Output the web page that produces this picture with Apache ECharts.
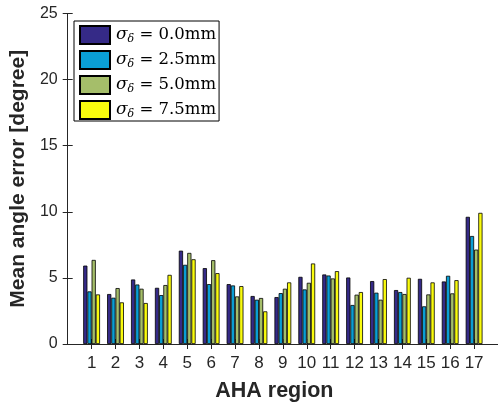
<!DOCTYPE html>
<html><head><meta charset="utf-8">
<script src="https://cdn.jsdelivr.net/npm/echarts@6/dist/echarts.min.js"></script>
<style>html,body{margin:0;padding:0;background:#fff}#c{width:498px;height:407px}</style>
</head><body><div id="c"></div>
<script>
const regions = [1,2,3,4,5,6,7,8,9,10,11,12,13,14,15,16,17];
const sigmaLabels = ['0.0mm','2.5mm','5.0mm','7.5mm'];
const s00 = [5.93,3.78,4.88,4.25,7.06,5.74,4.53,3.63,3.55,5.08,5.26,5.03,4.76,4.08,4.93,4.73,9.62];
const s25 = [3.98,3.50,4.50,3.70,5.99,4.53,4.43,3.35,3.85,4.13,5.18,2.95,3.88,3.93,2.85,5.16,8.17];
const s50 = [6.36,4.23,4.18,4.46,6.89,6.34,3.60,3.48,4.18,4.63,4.96,3.73,3.35,3.78,3.75,3.83,7.14];
const s75 = [3.75,3.15,3.10,5.23,6.41,5.36,4.38,2.47,4.66,6.09,5.51,3.93,4.91,5.01,4.66,4.83,9.92];
const yTicks = [0,5,10,15,20,25];
const colors = ['#352a87','#0a9ed4','#a5be6a','#f9fb0e'];
const seriesVals = [s00,s25,s50,s75];

const axColor = '#262626';
const chart = echarts.init(document.getElementById('c'), null, {renderer:'canvas'});
const tickCommon = {show:true, inside:true, length:5, lineStyle:{color:axColor,width:1}};
const option = {
  animation:false,
  backgroundColor:'#fff',
  grid:{left:64, right:0, top:13.5, bottom:61.5, containLabel:false},
  legend:{
    left:74, top:21, orient:'vertical',
    backgroundColor:'#fff', borderColor:'#000', borderWidth:1, borderRadius:0,
    padding:[4,3,1,5], itemWidth:30, itemHeight:18, itemGap:5,
    icon:'rect',
    data: sigmaLabels.map(s=>'sd='+s),
    formatter: name => '{s|σ}{d|δ}{t| = ' + name.slice(3) + '}',
    textStyle:{
      color:'#000', padding:[0,0,0,1], lineHeight:18,
      rich:{
        s:{fontFamily:'DejaVu Serif', fontStyle:'italic', fontSize:17, color:'#000', lineHeight:18},
        d:{fontFamily:'DejaVu Serif', fontStyle:'italic', fontSize:11, color:'#000', padding:[9,0,0,0], lineHeight:18},
        t:{fontFamily:'DejaVu Serif', fontSize:16.5, color:'#000', lineHeight:18}
      }
    }
  },
  xAxis:[{
    type:'value', min:0, max:18, interval:1, position:'bottom',
    axisLine:{lineStyle:{color:axColor,width:1}},
    axisTick:Object.assign({customValues:regions}, tickCommon),
    axisLabel:{customValues:regions, color:axColor, fontFamily:'Liberation Sans', fontSize:17, margin:11},
    splitLine:{show:false},
    name:'AHA region', nameLocation:'middle', nameGap:36,
    nameTextStyle:{fontFamily:'Liberation Sans', fontWeight:'bold', fontSize:21.5, color:axColor, padding:[0,17,0,0]}
  },{
    type:'value', min:0, max:18, interval:1, position:'top',
    axisLine:{lineStyle:{color:axColor,width:1}},
    axisTick:Object.assign({customValues:regions}, tickCommon),
    axisLabel:{show:false}, splitLine:{show:false}
  }],
  yAxis:[{
    type:'value', min:0, max:25, interval:5, position:'left',
    axisLine:{show:true, lineStyle:{color:axColor,width:1}},
    axisTick:tickCommon,
    axisLabel:{color:axColor, fontFamily:'Liberation Sans', fontSize:16, margin:10},
    splitLine:{show:false},
    name:'Mean angle error [degree]', nameLocation:'middle', nameGap:37,
    nameTextStyle:{fontFamily:'Liberation Sans', fontWeight:'bold', fontSize:21, color:axColor}
  },{
    type:'value', min:0, max:25, interval:5, position:'right',
    axisLine:{show:true, lineStyle:{color:axColor,width:1}},
    axisTick:tickCommon, axisLabel:{show:false}, splitLine:{show:false}
  }],
  series: seriesVals.map((vals,k)=>({
    type:'bar', name:'sd='+sigmaLabels[k], xAxisIndex:0, yAxisIndex:0,
    barWidth:4.2, barGap:'0%',
    itemStyle:{color:colors[k], borderColor:'#000', borderWidth:0.8},
    data: regions.map((r,i)=>[r, vals[i]])
  }))
};
chart.setOption(option);
</script></body></html>
